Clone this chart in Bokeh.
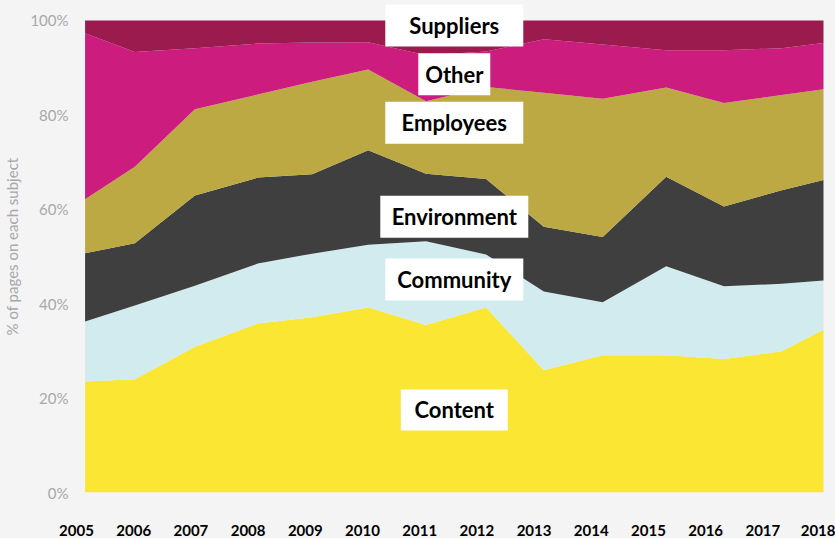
from bokeh.plotting import figure
from bokeh.models import ColumnDataSource, Range1d, FixedTicker, PrintfTickFormatter
from bokeh.core.properties import value
from bokeh.embed import file_html
from bokeh.resources import INLINE

# Report dates (fractional years) of the samples
years = [2005.15, 2006.02, 2007.07, 2008.17, 2009.12, 2010.10, 2011.11,
         2012.16, 2013.17, 2014.20, 2015.31, 2016.32, 2017.33, 2018.06]

# % of pages on each subject
content     = [23.5, 24.0, 30.9, 35.8, 37.1, 39.2, 35.5, 39.2, 25.9, 29.1, 29.1, 28.3, 29.9, 34.5]
community   = [12.7, 15.6, 12.9, 12.7, 13.5, 13.3, 17.7, 11.2, 16.7, 11.2, 18.8, 15.4, 14.3, 10.4]
environment = [14.5, 13.2, 19.1, 18.2, 16.8, 20.0, 14.3, 16.0, 13.7, 13.8, 19.0, 16.9, 19.8, 21.3]
employees   = [11.4, 16.2, 18.3, 17.6, 19.6, 17.1, 15.4, 19.5, 28.4, 29.3, 18.9, 21.9, 20.2, 19.2]
other       = [35.2, 24.3, 12.9, 10.8,  8.3,  5.8,  9.7,  7.5, 11.3, 11.5,  7.9, 11.2,  9.9,  9.8]
suppliers   = [ 2.7,  6.7,  5.9,  4.9,  4.7,  4.6,  7.4,  6.6,  4.0,  5.1,  6.3,  6.3,  5.9,  4.8]

series_names = ["Content", "Community", "Environment", "Employees", "Other", "Suppliers"]
series_colors = ["#fbe634", "#d2ebee", "#3f3f3f", "#bca944", "#cc1c7e", "#9b1b4f"]

tick_years = list(range(2005, 2019))
y_ticks = [0, 20, 40, 60, 80, 100]

# label annotations (positions in data units, box sizes in px)
label_text = ["Suppliers", "Other", "Employees", "Environment", "Community", "Content"]
label_x = [2011.605] * 6
label_y = [98.95, 88.6, 78.3, 58.4, 45.1, 17.5]
label_w = [138, 72, 138, 148, 138, 107]
label_h = [42, 42, 42, 42, 42, 41]

BG = "#f4f4f4"
FONT = "Lato"

src = ColumnDataSource(dict(x=years, Content=content, Community=community,
                            Environment=environment, Employees=employees,
                            Other=other, Suppliers=suppliers))

p = figure(width=835, height=538, output_backend="svg", toolbar_location=None,
           x_range=Range1d(2005.0, 2018.2), y_range=Range1d(0, 104.22),
           min_border_left=76, min_border_right=4, min_border_top=0,
           min_border_bottom=44)
p.background_fill_color = BG
p.border_fill_color = BG
p.outline_line_color = None
p.grid.visible = False

p.varea_stack(stackers=series_names, x="x", color=series_colors, source=src)

lsrc = ColumnDataSource(dict(x=label_x, y=label_y, w=label_w, h=label_h, t=label_text))
p.rect(x="x", y="y", width="w", height="h", width_units="screen",
       height_units="screen", fill_color="white", line_color=None, source=lsrc)
p.text(x="x", y="y", text="t", text_align="center", text_baseline="middle",
       text_font=value(FONT), text_font_style="bold", text_font_size="22px",
       text_color="black", source=lsrc)

# x axis
xa = p.xaxis[0]
xa.ticker = FixedTicker(ticks=tick_years)
xa.axis_line_color = None
xa.major_tick_line_color = None
xa.minor_tick_line_color = None
xa.major_label_standoff = 26
xa.major_label_text_font = FONT
xa.major_label_text_font_style = "bold"
xa.major_label_text_font_size = "15px"
xa.major_label_text_color = "black"

# y axis
ya = p.yaxis[0]
ya.ticker = FixedTicker(ticks=y_ticks)
ya.formatter = PrintfTickFormatter(format="%d%%")
ya.axis_line_color = None
ya.major_tick_line_color = None
ya.minor_tick_line_color = None
ya.major_label_standoff = 2
ya.major_label_text_font = FONT
ya.major_label_text_font_size = "15px"
ya.major_label_text_color = "#a8a8a8"
ya.axis_label = "% of pages on each subject"
ya.axis_label_text_font = FONT
ya.axis_label_text_font_style = "normal"
ya.axis_label_text_font_size = "15px"
ya.axis_label_text_color = "#a8a8a8"
ya.axis_label_standoff = 6

html = file_html(p, INLINE)
html = html.replace("<head>", "<head><style>html,body{background:#f4f4f4;}</style>", 1)
open("out.html", "w").write(html)
